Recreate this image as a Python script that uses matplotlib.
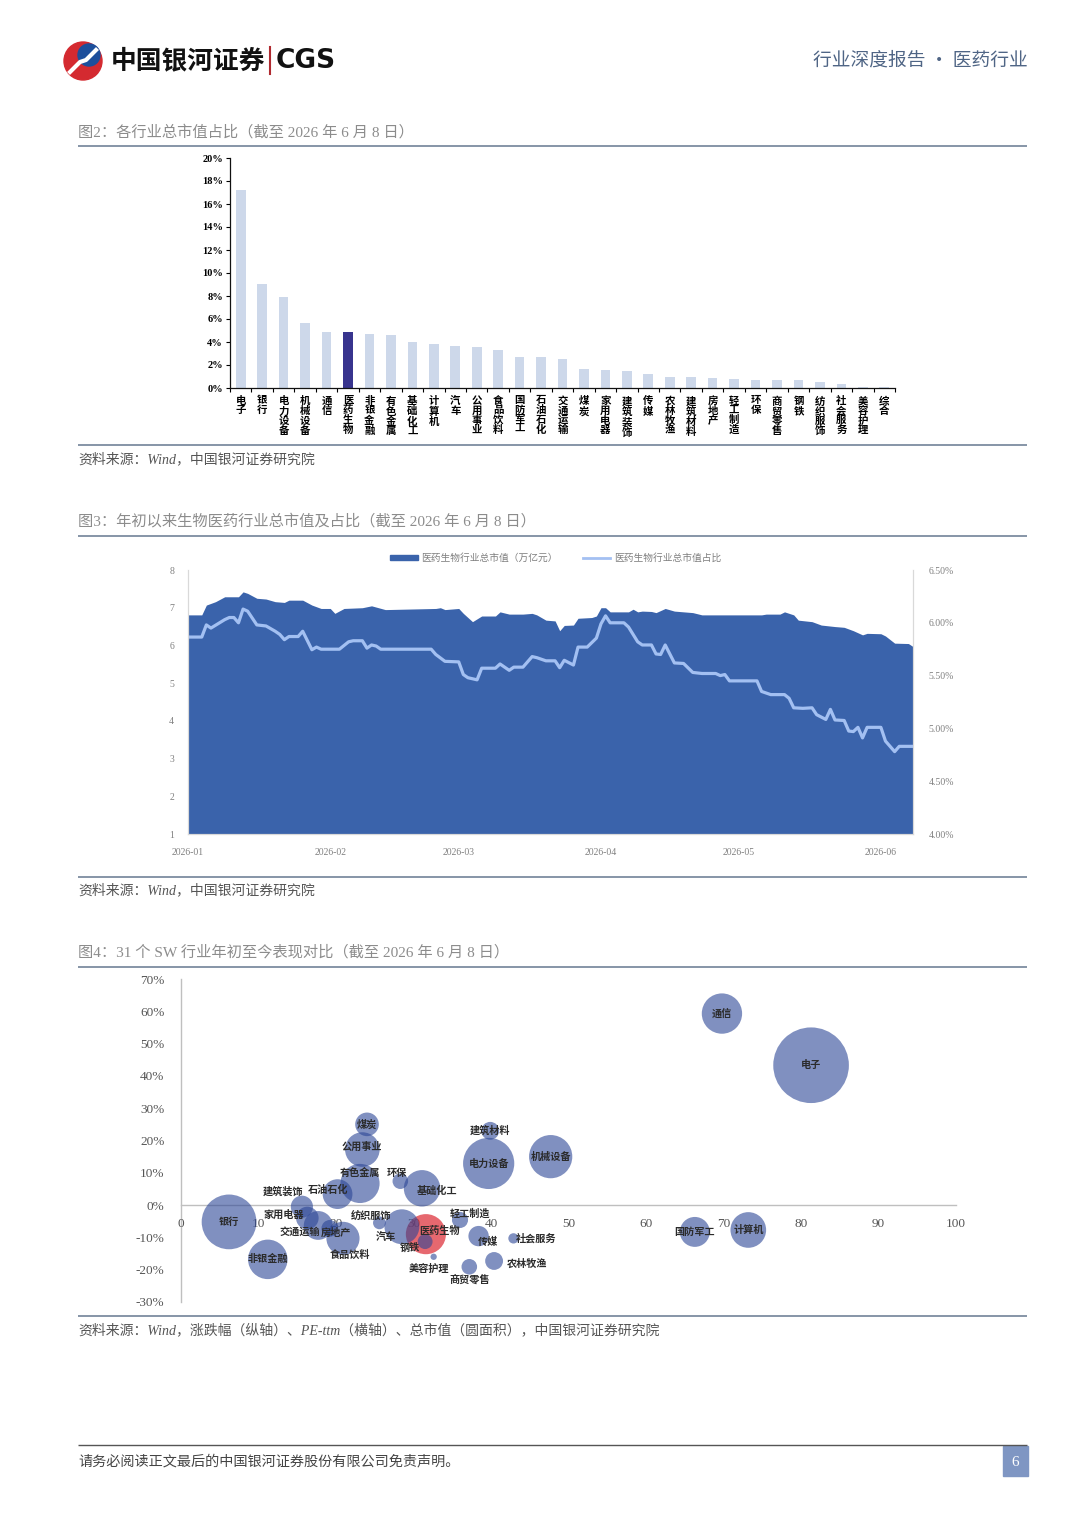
import numpy as np
import pandas as pd
import matplotlib
matplotlib.use('Agg')
import matplotlib.pyplot as plt
import matplotlib.dates as mdates
from matplotlib.patches import Rectangle, Circle, Patch
from matplotlib.lines import Line2D
from matplotlib.colors import to_rgba

SERIF = ['Liberation Serif', 'Noto Sans CJK SC']
SANS = ['Noto Sans CJK SC', 'DejaVu Sans']
plt.rcParams['font.family'] = SERIF
plt.rcParams['axes.unicode_minus'] = False

# ---- fig 2: market cap share by industry (%) ----
ind_names = ['电子', '银行', '电力设备', '机械设备', '通信', '医药生物', '非银金融', '有色金属',
             '基础化工', '计算机', '汽车', '公用事业', '食品饮料', '国防军工', '石油石化', '交通运输',
             '煤炭', '家用电器', '建筑装饰', '传媒', '农林牧渔', '建筑材料', '房地产', '轻工制造',
             '环保', '商贸零售', '钢铁', '纺织服饰', '社会服务', '美容护理', '综合']
mv_share = [17.24, 9.03, 7.9, 5.63, 4.9, 4.85, 4.7, 4.62, 4.0, 3.83, 3.66, 3.6, 3.31, 2.7, 2.67, 2.5,
            1.68, 1.54, 1.48, 1.25, 0.96, 0.96, 0.84, 0.78, 0.73, 0.73, 0.67, 0.49, 0.32, 0.12, 0.06]

# ---- fig 3: pharma total market cap (trillion yuan) and share (%) ----
mv_days = [0, 3, 4, 6, 8, 11, 12, 13, 15, 17, 19, 21, 22, 25, 27, 29, 31, 32, 34, 38,
           40, 43, 54, 55, 56, 59, 60, 62, 64, 67, 68, 70, 73, 75, 76, 78, 80, 81, 82, 84,
           85, 88, 89, 90, 91, 92, 96, 97, 98, 99, 101, 102, 104, 106, 110, 112, 125, 126, 129, 130,
           132, 133, 136, 138, 141, 143, 145, 147, 148, 151, 152, 154, 157, 158]
mv_vals = [6.81, 6.81, 7.07, 7.16, 7.29, 7.29, 7.42, 7.38, 7.25, 7.23, 7.16, 7.14, 7.20, 7.20, 7.07, 6.98, 6.98, 6.85, 6.98, 7.00,
           7.05, 6.95, 6.98, 7.00, 6.95, 6.98, 6.85, 6.63, 6.78, 6.78, 6.89, 6.83, 6.83, 6.85, 6.81, 6.67, 6.65, 6.39, 6.53, 6.54,
           6.72, 6.74, 6.78, 7.00, 7.00, 6.89, 6.89, 6.96, 6.89, 6.91, 6.90, 6.87, 6.98, 6.91, 6.87, 6.81, 6.81, 6.83, 6.83, 6.89,
           6.81, 6.67, 6.63, 6.54, 6.50, 6.48, 6.39, 6.28, 6.32, 6.31, 6.25, 6.06, 6.05, 5.97]
pct_days = [0, 3, 4, 5, 8, 9, 10, 11, 12, 13, 15, 17, 19, 20, 21, 22, 24, 25, 27, 28,
            29, 33, 35, 36, 38, 39, 40, 41, 42, 53, 54, 56, 59, 60, 61, 63, 64, 67, 68, 70,
            71, 73, 75, 76, 78, 80, 81, 82, 84, 85, 87, 89, 90, 91, 92, 95, 96, 98, 99, 101,
            102, 103, 104, 106, 108, 110, 112, 115, 116, 117, 118, 124, 125, 127, 130, 131, 132, 134, 136, 137,
            139, 140, 141, 143, 144, 145, 146, 147, 148, 151, 152, 154, 155, 158]
pct_vals = [5.865, 5.865, 5.98, 5.95, 6.03, 6.05, 6.05, 6.00, 6.13, 6.11, 5.98, 5.97, 5.92, 5.89, 5.84, 5.87, 5.87, 5.92, 5.745, 5.77,
            5.75, 5.75, 5.82, 5.83, 5.83, 5.76, 5.79, 5.78, 5.75, 5.75, 5.70, 5.635, 5.63, 5.51, 5.48, 5.46, 5.57, 5.57, 5.61, 5.55,
            5.58, 5.58, 5.68, 5.67, 5.64, 5.64, 5.575, 5.645, 5.60, 5.77, 5.77, 5.855, 5.99, 6.066, 6.0, 6.0, 5.96, 5.82, 5.79, 5.79,
            5.705, 5.70, 5.79, 5.62, 5.615, 5.53, 5.52, 5.52, 5.50, 5.51, 5.45, 5.45, 5.35, 5.32, 5.32, 5.285, 5.195, 5.19, 5.195, 5.13,
            5.085, 5.18, 5.08, 5.075, 4.975, 4.97, 5.01, 4.91, 5.01, 5.01, 4.88, 4.78, 4.83, 4.83]

# ---- fig 4: YTD return (%) vs PE-ttm, bubble = market cap ----
bub_names = ['电子', '通信', '机械设备', '电力设备', '建筑材料', '煤炭', '公用事业', '有色金属', '环保', '基础化工',
             '石油石化', '建筑装饰', '家用电器', '交通运输', '房地产', '食品饮料', '纺织服饰', '汽车', '轻工制造', '医药生物',
             '钢铁', '美容护理', '传媒', '社会服务', '农林牧渔', '商贸零售', '银行', '非银金融', '国防军工', '计算机']
bub_pe = [81.3, 69.8, 47.7, 39.7, 39.9, 24.0, 23.4, 23.1, 28.3, 31.1,
          20.2, 15.6, 16.3, 17.7, 19.2, 20.9, 25.6, 28.5, 36.0, 31.6,
          31.5, 32.6, 38.4, 42.9, 40.4, 37.2, 6.2, 11.2, 66.3, 73.2]
bub_ret = [43.3, 59.3, 15.0, 12.9, 23.0, 25.0, 17.2, 6.7, 7.4, 5.2,
           3.4, -0.5, -4.0, -6.3, -7.2, -10.3, -5.5, -6.7, -4.6, -9.0,
           -11.3, -16.0, -9.6, -10.3, -17.3, -19.1, -5.2, -16.8, -8.3, -7.7]

# label nudges in pixels (right, down)
label_nudge = {'建筑装饰': (-19, -15), '家用电器': (-24, -3), '交通运输': (-18, 6), '房地产': (6, 4),
               '石油石化': (-9, -4), '有色金属': (0, -10), '环保': (-3, -8), '公用事业': (0, -3),
               '食品饮料': (7, 17), '纺织服饰': (-8, -7), '汽车': (-16, 10), '基础化工': (15, 3),
               '医药生物': (14, -3), '钢铁': (-15, 6), '美容护理': (-5, 12), '轻工制造': (10, -6),
               '传媒': (9, 6), '社会服务': (23, 0), '农林牧渔': (33, 3), '商贸零售': (0, 13)}

W, H = 1080, 1527
fig = plt.figure(figsize=(W / 100, H / 100), dpi=100)

# page layer in pixel coords
bg = fig.add_axes([0, 0, 1, 1])
bg.set_xlim(0, W); bg.set_ylim(H, 0); bg.axis('off')

def hline(y, c='#7D8CA0', lw=1.3):
    bg.plot([78, 1027], [y, y], color=c, lw=lw, solid_capstyle='butt')

# header
bg.add_patch(Circle((83, 61), 19, color='#D42A30'))
bg.add_patch(Circle((89, 55), 11, color='#1D4F9C'))
bg.plot([70, 80, 86, 96], [72, 62, 60, 50], color='white', lw=3)
bg.text(111, 61, '中国银河证券', family=SANS, fontsize=18.5, fontweight='bold', va='center', color='#111111')
bg.plot([270, 270], [47, 74], color='#B02A30', lw=1.5)
bg.text(276, 61, 'CGS', family=['DejaVu Sans'], fontsize=19, fontweight='bold', va='center', color='#111111')
bg.text(1028, 60, '行业深度报告 · 医药行业', family=SANS, fontsize=13.5, va='center', ha='right', color='#4F6585')

title_kw = dict(fontsize=11, color='#8C8C8C', va='center')
src_kw = dict(fontsize=10, color='#555555', va='center', style='italic')

bg.text(78, 132, '图2：各行业总市值占比（截至 2026 年 6 月 8 日）', **title_kw)
hline(146)
hline(445)
bg.text(78, 459, '资料来源：Wind，中国银河证券研究院', **src_kw)

bg.text(78, 521, '图3：年初以来生物医药行业总市值及占比（截至 2026 年 6 月 8 日）', **title_kw)
hline(536)
hline(877)
bg.text(78, 890, '资料来源：Wind，中国银河证券研究院', **src_kw)

bg.text(78, 952, '图4：31 个 SW 行业年初至今表现对比（截至 2026 年 6 月 8 日）', **title_kw)
hline(967)
hline(1316)
bg.text(78, 1330, '资料来源：Wind，涨跌幅（纵轴）、PE-ttm（横轴）、总市值（圆面积），中国银河证券研究院', **src_kw)

hline(1445, c='#555555', lw=1.0)
bg.text(78, 1462, '请务必阅读正文最后的中国银河证券股份有限公司免责声明。', fontsize=10.2, color='#444444', va='center')
bg.add_patch(Rectangle((1003, 1446), 25, 30, color='#7F96C3'))
bg.text(1015.5, 1462, '6', fontsize=11, color='white', ha='center', va='center')

# ---- chart 1: bars ----
ax1 = fig.add_axes([230 / W, 1 - 388 / H, 665 / W, 230 / H])
x = np.arange(len(ind_names))
bar_colors = ['#38348E' if n == '医药生物' else '#CDD8EA' for n in ind_names]
ax1.bar(x, mv_share, width=0.45, color=bar_colors)
ax1.set_xlim(-0.5, len(ind_names) - 0.5)
ax1.set_ylim(0, 20)
ax1.set_yticks(np.arange(0, 21, 2))
ax1.set_yticklabels([f'{v}%' for v in range(0, 21, 2)], fontsize=7.5, fontweight='bold')
ax1.set_xticks(x)
ax1.set_xticklabels(['\n'.join(n) for n in ind_names], fontsize=7.5, fontweight='bold',
                    linespacing=1.0, va='top')
ax1.set_xticks(np.arange(-0.5, len(ind_names), 1.0), minor=True)
ax1.tick_params(axis='x', which='major', length=0, pad=6)
ax1.tick_params(axis='x', which='minor', length=3, width=0.8, direction='out')
ax1.tick_params(axis='y', length=3, width=0.8, pad=2)
for s in ['top', 'right']:
    ax1.spines[s].set_visible(False)
for s in ['left', 'bottom']:
    ax1.spines[s].set_linewidth(0.9)
    ax1.spines[s].set_color('#111111')

# ---- chart 2: area + line ----
base = pd.Timestamp('2026-01-01')
mv_dates = (base + pd.to_timedelta(mv_days, unit='D')).to_pydatetime()
pct_dates = (base + pd.to_timedelta(pct_days, unit='D')).to_pydatetime()

ax2 = fig.add_axes([188 / W, 1 - 834 / H, 725 / W, 264 / H])
ax2.fill_between(mv_dates, mv_vals, 1, color='#3A63AB', lw=0)
ax2.set_ylim(1, 8)
ax2.set_xlim(base.to_pydatetime(), (base + pd.Timedelta(days=158)).to_pydatetime())
ax2b = ax2.twinx()
ax2b.plot(pct_dates, pct_vals, color='#A3C0F2', lw=2.3)
ax2b.set_ylim(4.0, 6.5)
ax2b.set_yticks(np.arange(4.0, 6.51, 0.5))
ax2b.set_yticklabels([f'{v:.2f}%' for v in np.arange(4.0, 6.51, 0.5)])
ax2.xaxis.set_major_locator(mdates.MonthLocator())
ax2.xaxis.set_major_formatter(mdates.DateFormatter('%Y-%m'))
ax2.tick_params(axis='x', length=0, pad=10, labelsize=7, labelcolor='#808080')
ax2.tick_params(axis='y', length=0, pad=10, labelsize=7, labelcolor='#808080')
ax2b.tick_params(axis='y', length=0, pad=11, labelsize=7, labelcolor='#808080')
for a in (ax2, ax2b):
    a.spines['top'].set_visible(False)
    for s in ['left', 'right', 'bottom']:
        a.spines[s].set_color('#D9D9D9')
        a.spines[s].set_linewidth(0.8)
leg_handles = [Patch(color='#3A63AB'), Line2D([], [], color='#A3C0F2', lw=2)]
fig.legend(leg_handles, ['医药生物行业总市值（万亿元）', '医药生物行业总市值占比'],
           loc='center', bbox_to_anchor=(556 / W, 1 - 558 / H), ncol=2, frameon=False,
           fontsize=7, labelcolor='#7F7F7F', handlelength=2.8, handleheight=0.5,
           columnspacing=2.6, handletextpad=0.4)

# ---- chart 3: bubbles ----
ax3 = fig.add_axes([181 / W, 1 - 1302 / H, 775 / W, 323 / H])
share = dict(zip(ind_names, mv_share))
sizes = np.array([share[n] * 172 for n in bub_names])
cols = [to_rgba('#DC2832', 0.7) if n == '医药生物' else to_rgba('#2C4696', 0.6) for n in bub_names]
order = np.argsort(-sizes)
ax3.scatter(np.array(bub_pe)[order], np.array(bub_ret)[order], s=sizes[order],
            c=[cols[i] for i in order], edgecolors='none', zorder=2)
for n, px, py in zip(bub_names, bub_pe, bub_ret):
    dx, dy = label_nudge.get(n, (0, 0))
    ax3.annotate(n, (px, py), xytext=(dx, -dy), textcoords='offset pixels', ha='center', va='center',
                 family=SANS, fontsize=7.3, fontweight='bold', color='#2B2B2B', zorder=5)
ax3.set_xlim(0, 100)
ax3.set_ylim(-30, 70)
ax3.set_xticks(np.arange(0, 101, 10))
ax3.set_xticklabels([str(v) for v in range(0, 101, 10)])
ax3.set_yticks(np.arange(-30, 71, 10))
ax3.set_yticklabels([f'{v}%' for v in range(-30, 71, 10)])
ax3.tick_params(axis='x', length=0, pad=9, labelsize=9.5, labelcolor='#555555')
ax3.tick_params(axis='y', length=0, pad=12, labelsize=9.5, labelcolor='#555555')
ax3.spines['bottom'].set_position(('data', 0))
for s in ['top', 'right']:
    ax3.spines[s].set_visible(False)
for s in ['left', 'bottom']:
    ax3.spines[s].set_color('#BFBFBF')
    ax3.spines[s].set_linewidth(1.0)
    ax3.spines[s].set_zorder(0.5)
ax3.xaxis.set_zorder(0.6)
ax3.patch.set_alpha(0)

fig.savefig('out.png', dpi=100)
